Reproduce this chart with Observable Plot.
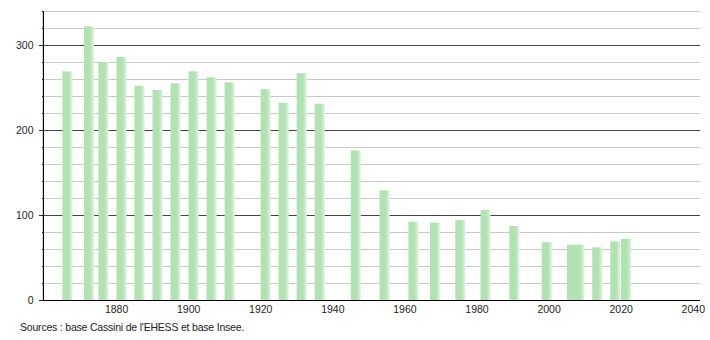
<!DOCTYPE html>
<html>
<head>
<meta charset="utf-8">
<script src="https://cdn.jsdelivr.net/npm/d3@7"></script>
<script src="https://cdn.jsdelivr.net/npm/@observablehq/plot@0.6"></script>
<style>
  body { margin: 0; background: #fff; font-family: "Liberation Sans", Arial, sans-serif; }
  #chart svg { display: block; }
  #caption { position: absolute; left: 20px; top: 321px; font-size: 10.5px; color: #222; letter-spacing: -0.2px; }
</style>
</head>
<body>
<div id="chart"></div>
<div id="caption">Sources : base Cassini de l'EHESS et base Insee.</div>
<script>
const years = [1866,1872,1876,1881,1886,1891,1896,1901,1906,1911,1921,1926,1931,1936,1946,1954,1962,1968,1975,1982,1990,1999,2006,2008,2013,2018,2021];
const population = [269,322,280,286,252,247,255,269,262,256,248,232,267,231,176,129,92,91,94,106,87,68,65,65,62,69,72];
const majorTicks = [0,100,200,300];
const minorTicks = [20,40,60,80,120,140,160,180,220,240,260,280,320,340];
const xTicks = [1880,1900,1920,1940,1960,1980,2000,2020,2040];

const data = years.map((y, i) => ({year: y, pop: population[i]}));

const defs = () => {
  const d = d3.create("svg:defs");
  const g = d.append("linearGradient").attr("id", "barGrad").attr("x1", 0).attr("x2", 1).attr("y1", 0).attr("y2", 0);
  g.append("stop").attr("offset", "0%").attr("stop-color", "#b1e2b1");
  g.append("stop").attr("offset", "60%").attr("stop-color", "#b1e2b1");
  g.append("stop").attr("offset", "100%").attr("stop-color", "#e2f4e2");
  return d.node();
};

const chart = Plot.plot({
  width: 710,
  height: 318,
  marginLeft: 44,
  marginRight: 10,
  marginTop: 11,
  marginBottom: 18,
  style: {fontFamily: "Liberation Sans, Arial, sans-serif", fontSize: "10.5px", color: "#222", background: "#fff"},
  x: {domain: [1860, 2042]},
  y: {domain: [0, 340]},
  marks: [
    defs,
    Plot.ruleY(minorTicks, {stroke: "#c8c8c8", strokeWidth: 1}),
    Plot.ruleY([100, 200, 300], {stroke: "#444", strokeWidth: 1}),
    Plot.rectY(data, {x1: d => d.year - 0.9, x2: d => d.year + 1.9, y: "pop", fill: "url(#barGrad)"}),
    Plot.ruleY([0], {stroke: "#000", strokeWidth: 1.2}),
    Plot.ruleX([1859.7], {y1: 0, y2: 340, stroke: "#000", strokeWidth: 1.2}),
    Plot.axisY({ticks: majorTicks, tickSize: 5, tickPadding: 6, label: null, anchor: "left"}),
    Plot.axisY({ticks: minorTicks, tickSize: 2, tickFormat: () => "", label: null, anchor: "left"}),
    Plot.axisX({ticks: xTicks, tickSize: 0, tickPadding: 5, tickFormat: d => String(d), label: null})
  ]
});
document.getElementById("chart").appendChild(chart);
</script>
</body>
</html>
